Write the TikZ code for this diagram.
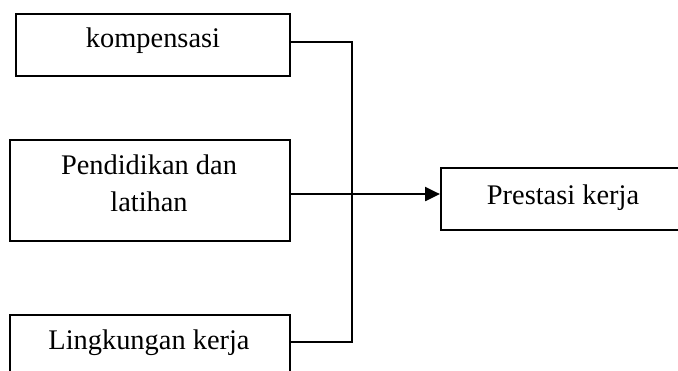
\documentclass[tikz,border=0pt]{standalone}
\usepackage{fontspec}
\setmainfont{Liberation Serif}
\usetikzlibrary{arrows.meta}
\begin{document}
\begin{tikzpicture}[x=1pt,y=-1pt,
  box/.style={draw, line width=2.1pt, inner sep=0pt, anchor=north west},
  lbl/.style={inner sep=0pt, font=\fontsize{28.4}{36.7}\selectfont},
  conn/.style={line width=2.2pt}]
\useasboundingbox (0,0) rectangle (678,370);
\clip (0,0) rectangle (678,370);
\fill[white] (0,0) rectangle (678,370);
% boxes
\node[box, minimum width=274pt, minimum height=62pt] (b1) at (15,13) {};
\node[box, minimum width=280pt, minimum height=101pt] (b2) at (9,139) {};
\node[box, minimum width=280pt, minimum height=62pt] (b3) at (9,314) {};
\node[box, minimum width=246pt, minimum height=62pt] (b4) at (440,167) {};
% labels
\node[lbl, anchor=base] (t1) at (153,47) {kompensasi};
\node[lbl, align=center] (t2) at (149,183.4) {Pendidikan dan\\latihan};
\node[lbl, anchor=base] (t3) at (149,349) {Lingkungan kerja};
\node[lbl, anchor=base] (t4) at (563,204) {Prestasi kerja};
% connectors
\coordinate (jn) at (352,193);
\draw[conn] ([yshift=3pt]b1.east) -| (jn) |- ([yshift=4pt]b3.east);
\draw[conn, -{Triangle[length=15pt,width=14pt]}] ([yshift=-3.5pt]b2.east) -- ([yshift=-3.5pt]b2.east -| b4.west);
\end{tikzpicture}
\end{document}
